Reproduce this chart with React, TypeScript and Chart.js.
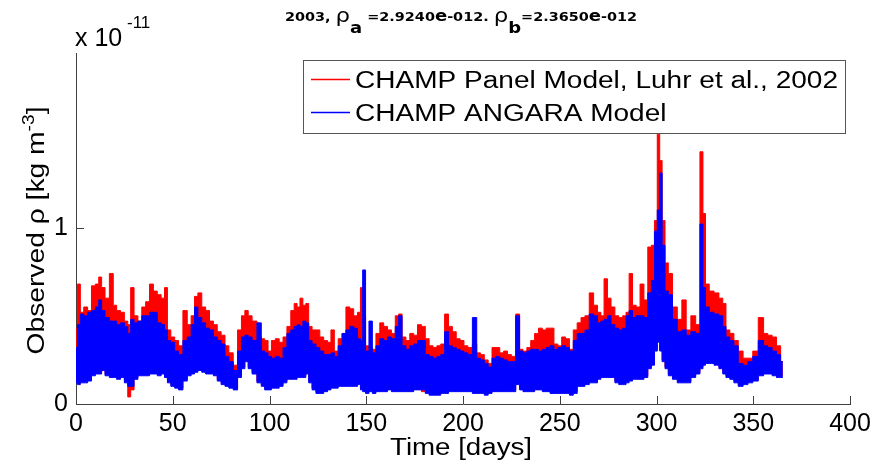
import React, { useEffect, useRef } from 'react';
import { Chart, registerables } from 'chart.js';

Chart.register(...registerables);

// ---- data (values in units of 1e-11 kg m^-3), envelope of dense samples ----
const days = [0,1.5,3,5,7,9,11,12.5,14,16,
18.5,20,22,24,26,27.5,29,31,33,35,
37,39,41,43,45,46.5,48,50,52,54,
56.5,58.5,60.5,62,64,66,68,70,72,74,
76,78,80,82.5,84.5,86.5,88,90,92,95,
96.5,98.5,100,102,104,106,108,110,112,113.5,
115,116.5,118,119.5,121,123,125,127,129,131,
132.5,134.5,136.5,138.5,140.5,142.5,144.5,146.5,147.5,148.8,
150.5,152.3,154,156,158,160,162,164,166,167.5,
169.5,171.5,173.5,175.5,177.5,179.5,181.5,183.5,185.5,187.5,
189.5,191.5,193.5,195.5,197.5,199.5,201.5,203.5,206.2,208,
210,212,214,216,218,220,222,224,226,228.5,
230,232,234,236,238,240,242,244,246,248,
250,252,254,256,258,260,262,264,266.5,268.5,
270.5,272,273.8,275.5,277.5,279.5,281.5,283.5,285,286.7,
288.5,290.5,292.5,294.5,296.5,298.2,299.7,301.1,302.2,303.6,
305.2,307,309.5,312,314.2,316.5,319,321.5,323.4,324.6,
326,328.5,331,333.5,335,336.8,339,341,343.5,346,
348.5,351,354.2,356.5,358.5,361,363,365.3];

const panelHigh = [.43,.68,.52,.55,.53,.67,.68,.72,.66,.60,
.74,.56,.53,.52,.47,.45,.66,.50,.47,.55,
.58,.68,.64,.62,.60,.66,.42,.38,.36,.33,
.53,.45,.50,.61,.63,.55,.53,.47,.45,.41,
.39,.33,.29,.22,.42,.50,.53,.50,.47,.38,
.37,.36,.30,.36,.37,.35,.38,.44,.53,.57,
.55,.60,.56,.57,.44,.42,.42,.38,.36,.35,
.42,.30,.37,.40,.55,.54,.50,.52,.66,.50,
.33,.32,.31,.40,.46,.44,.42,.40,.50,.51,
.38,.36,.40,.39,.45,.44,.37,.33,.32,.33,
.34,.51,.44,.41,.37,.36,.33,.32,.34,.29,
.28,.25,.23,.32,.32,.29,.30,.28,.27,.51,
.31,.30,.32,.36,.40,.43,.42,.43,.43,.34,
.33,.38,.37,.31,.42,.46,.49,.50,.63,.56,
.52,.50,.71,.60,.55,.50,.49,.50,.52,.74,
.56,.55,.68,.59,.89,.90,1.04,1.53,1.38,1.04,
.80,.74,.55,.48,.59,.42,.50,.45,1.43,1.08,
.68,.64,.63,.60,.57,.42,.40,.36,.30,.26,
.26,.30,.49,.40,.39,.38,.33,.24];

const panelLow = [.13,.12,.13,.13,.14,.17,.18,.18,.20,.17,
.16,.16,.15,.16,.13,.04,.08,.15,.17,.17,
.17,.18,.18,.17,.18,.16,.13,.11,.10,.09,
.14,.17,.18,.19,.20,.19,.18,.18,.17,.14,
.12,.11,.10,.09,.16,.21,.25,.21,.18,.13,
.11,.09,.09,.10,.10,.11,.13,.15,.15,.15,
.16,.16,.16,.18,.13,.09,.07,.07,.08,.09,
.10,.10,.11,.11,.11,.11,.11,.12,.09,.08,
.07,.08,.07,.08,.08,.08,.09,.08,.08,.08,
.08,.08,.08,.09,.09,.07,.07,.06,.06,.06,
.07,.07,.08,.08,.08,.08,.08,.08,.07,.07,
.07,.06,.07,.08,.08,.08,.08,.08,.08,.12,
.09,.08,.08,.08,.09,.09,.08,.08,.07,.07,
.07,.07,.07,.06,.07,.11,.11,.12,.13,.13,
.15,.16,.16,.16,.16,.13,.12,.12,.13,.14,
.15,.15,.15,.16,.21,.23,.31,.36,.31,.25,
.21,.17,.15,.13,.13,.13,.16,.18,.21,.23,
.24,.24,.23,.21,.18,.16,.15,.13,.11,.12,
.13,.14,.17,.18,.18,.17,.16,.16];

const angaraHigh = [.32,.45,.51,.50,.52,.53,.55,.59,.53,.49,
.47,.47,.45,.46,.44,.40,.48,.46,.47,.50,
.50,.52,.52,.46,.45,.42,.36,.35,.30,.28,
.36,.38,.45,.55,.49,.46,.43,.42,.38,.36,
.34,.27,.24,.19,.30,.38,.39,.38,.36,.46,
.30,.29,.27,.26,.27,.26,.32,.40,.42,.44,
.45,.44,.47,.46,.36,.34,.32,.30,.28,.28,
.29,.27,.33,.40,.42,.44,.43,.37,.36,.76,
.30,.47,.29,.33,.37,.36,.38,.37,.44,.50,
.33,.31,.33,.34,.36,.36,.28,.27,.26,.27,
.28,.41,.33,.32,.31,.30,.29,.28,.49,.26,
.25,.23,.21,.26,.27,.26,.25,.24,.24,.50,
.30,.29,.30,.31,.31,.30,.31,.32,.33,.31,
.32,.33,.32,.30,.36,.40,.40,.42,.51,.50,
.46,.47,.48,.50,.45,.43,.42,.43,.50,.53,
.49,.50,.50,.49,.63,.70,.98,1.10,1.31,.90,
.64,.62,.48,.41,.42,.39,.41,.40,1.02,.66,
.55,.52,.51,.50,.44,.38,.36,.33,.23,.22,
.24,.27,.36,.33,.32,.30,.28,.24];

const angaraLow = [.12,.11,.12,.12,.13,.16,.17,.17,.19,.16,
.15,.15,.14,.15,.12,.10,.10,.14,.16,.16,
.16,.17,.17,.16,.17,.15,.12,.10,.09,.08,
.13,.16,.17,.18,.19,.18,.17,.17,.16,.13,
.11,.10,.09,.08,.15,.20,.24,.20,.17,.12,
.10,.08,.08,.09,.09,.10,.12,.14,.14,.14,
.15,.15,.15,.17,.12,.08,.06,.06,.07,.08,
.09,.09,.10,.10,.10,.10,.10,.11,.08,.07,
.06,.07,.06,.07,.07,.07,.08,.07,.07,.07,
.07,.07,.07,.08,.08,.08,.06,.05,.05,.05,
.06,.06,.07,.07,.07,.07,.07,.07,.06,.06,
.06,.05,.06,.07,.07,.07,.07,.07,.07,.11,
.08,.07,.07,.07,.08,.08,.07,.07,.06,.06,
.06,.06,.06,.05,.06,.10,.10,.11,.12,.12,
.14,.15,.15,.15,.15,.12,.11,.11,.12,.13,
.14,.14,.14,.15,.20,.22,.30,.35,.30,.24,
.20,.16,.14,.12,.12,.12,.15,.17,.20,.22,
.23,.23,.22,.20,.17,.15,.14,.12,.10,.11,
.12,.13,.16,.17,.17,.16,.15,.15];

const seriesLabels = ['CHAMP Panel Model, Luhr et al., 2002', 'CHAMP ANGARA Model'];
const yTickValues = [0, 1];
const xTickStep = 50;

const FONT = '"Liberation Sans", Arial, Helvetica, sans-serif';
const TFONT = '"DejaVu Sans", Verdana, sans-serif';
const RED = '#ff0000';
const BLUE = '#0000ff';
const AXIS = '#404040';

type Seg = { t: string; f: string; dy: number };

function drawSegs(ctx: CanvasRenderingContext2D, segs: Seg[], x0: number, y0: number, targetW: number) {
  let total = 0;
  const ws: number[] = [];
  for (const s of segs) { ctx.font = s.f; const w = ctx.measureText(s.t).width; ws.push(w); total += w; }
  const sx = targetW / total;
  ctx.save();
  ctx.translate(x0, y0);
  ctx.scale(sx, 1);
  let cx = 0;
  segs.forEach((s, i) => { ctx.font = s.f; ctx.fillText(s.t, cx, s.dy); cx += ws[i]; });
  ctx.restore();
}

const decorPlugin = {
  id: 'decor',
  afterDraw(chart: any) {
    const ctx: CanvasRenderingContext2D = chart.ctx;
    const { left, right, top, bottom } = chart.chartArea;
    const xs = chart.scales.x;
    const ys = chart.scales.y;
    ctx.save();
    // inward ticks
    ctx.strokeStyle = AXIS;
    ctx.lineWidth = 1;
    ctx.beginPath();
    xs.ticks.forEach((t: any) => {
      const px = Math.round(xs.getPixelForValue(t.value)) + 0.5;
      ctx.moveTo(px, bottom); ctx.lineTo(px, bottom - 8);
    });
    ys.ticks.forEach((t: any) => {
      const py = Math.round(ys.getPixelForValue(t.value)) + 0.5;
      ctx.moveTo(left, py); ctx.lineTo(left + 8, py);
    });
    ctx.stroke();

    ctx.fillStyle = '#000';
    ctx.textBaseline = 'alphabetic';
    ctx.textAlign = 'left';

    // title
    const b12 = 'bold 12px ' + TFONT;
    const b15 = 'bold 15px ' + TFONT;
    const rho = '19px ' + TFONT;
    drawSegs(ctx, [
      { t: '2003, ', f: b12, dy: 0 },
      { t: 'ρ', f: rho, dy: 1 },
      { t: 'a', f: b15, dy: 12 },
      { t: ' =2.9240', f: b12, dy: 0 },
      { t: 'e', f: b15, dy: 0 },
      { t: '-012. ', f: b12, dy: 0 },
      { t: 'ρ', f: rho, dy: 1 },
      { t: 'b', f: b15, dy: 12 },
      { t: '=2.3650', f: b12, dy: 0 },
      { t: 'e', f: b15, dy: 0 },
      { t: '-012', f: b12, dy: 0 },
    ], 285, 21, 352);

    // exponent
    ctx.font = '25px ' + FONT;
    ctx.fillText('x 10', 75, 46);
    ctx.font = '17px ' + FONT;
    ctx.fillText('-11', 127, 28);

    // x title
    const xtw = 142;
    drawSegs(ctx, [{ t: 'Time [days]', f: '23.5px ' + FONT, dy: 0 }], (left + right) / 2 - 2 - xtw / 2, 455, xtw);

    // y title (rotated)
    ctx.save();
    ctx.translate(44, (top + bottom) / 2 + 2);
    ctx.rotate(-Math.PI / 2);
    drawSegs(ctx, [
      { t: 'Observed ρ [kg m', f: '23.5px ' + FONT, dy: 0 },
      { t: '-3', f: '16px ' + FONT, dy: -10 },
      { t: ']', f: '23.5px ' + FONT, dy: 0 },
    ], -124, 0, 248);
    ctx.restore();

    // legend
    const bx = 303.5, by = 60.5, bw = 542, bh = 73;
    ctx.fillStyle = '#fff';
    ctx.fillRect(bx, by, bw, bh);
    ctx.strokeStyle = '#555';
    ctx.lineWidth = 1;
    ctx.strokeRect(bx, by, bw, bh);
    const entries = [
      { label: seriesLabels[0], color: chart.data.datasets[3].borderColor, y: 79, base: 88 },
      { label: seriesLabels[1], color: chart.data.datasets[1].borderColor, y: 112, base: 121 },
    ];
    const lf = '23.5px ' + FONT;
    ctx.font = lf;
    const sxl = 483 / ctx.measureText(seriesLabels[0]).width;
    entries.forEach((e) => {
      ctx.strokeStyle = e.color;
      ctx.lineWidth = 1.3;
      ctx.beginPath();
      ctx.moveTo(311, e.y + 0.5); ctx.lineTo(350, e.y + 0.5);
      ctx.stroke();
      ctx.fillStyle = '#000';
      ctx.font = lf;
      const w = ctx.measureText(e.label).width * sxl;
      drawSegs(ctx, [{ t: e.label, f: lf, dy: 0 }], 355, e.base, w);
    });
    ctx.restore();
  },
};

export default function App() {
  const ref = useRef<HTMLCanvasElement | null>(null);
  useEffect(() => {
    if (!ref.current) return;
    const pts = (ys: number[]) => days.map((d, i) => ({ x: d, y: ys[i] }));
    const base = { pointRadius: 0, borderWidth: 1, tension: 0, stepped: 'middle' };
    const chart = new Chart(ref.current, {
      type: 'line',
      data: {
        datasets: [
          { ...base, label: 'angaraLow', data: pts(angaraLow), borderColor: BLUE, backgroundColor: BLUE, fill: false },
          { ...base, label: seriesLabels[1], data: pts(angaraHigh), borderColor: BLUE, backgroundColor: BLUE, fill: '-1' },
          { ...base, label: 'panelLow', data: pts(panelLow), borderColor: RED, backgroundColor: RED, fill: false },
          { ...base, label: seriesLabels[0], data: pts(panelHigh), borderColor: RED, backgroundColor: RED, fill: '-1' },
        ],
      },
      options: {
        animation: false,
        responsive: false,
        devicePixelRatio: 1,
        layout: { padding: { left: 0, right: 28, top: 53, bottom: 0 } },
        plugins: { legend: { display: false }, tooltip: { enabled: false }, title: { display: false } },
        scales: {
          x: {
            type: 'linear',
            min: 0,
            max: 400,
            ticks: { stepSize: xTickStep, font: { family: FONT, size: 25 }, color: '#000', padding: 5, maxRotation: 0, autoSkip: false },
            grid: { display: false, drawTicks: false },
            border: { display: true, color: AXIS, width: 1 },
            afterFit: (s: any) => { s.height = 69; },
          },
          y: {
            type: 'linear',
            min: 0,
            max: 1.99,
            afterBuildTicks: (axis: any) => { axis.ticks = yTickValues.map((v) => ({ value: v })); },
            ticks: { font: { family: FONT, size: 25 }, color: '#000', padding: 8, callback: (v: any) => String(v) },
            grid: { display: false, drawTicks: false },
            border: { display: true, color: AXIS, width: 1 },
            afterFit: (s: any) => { s.width = 76; },
          },
        },
      },
      plugins: [decorPlugin],
    } as any);
    return () => chart.destroy();
  }, []);
  return (
    <div style={{ position: 'absolute', left: 0, top: 0, width: 878, height: 473, background: '#fff' }}>
      <canvas ref={ref} width={878} height={473} style={{ display: 'block' }} />
    </div>
  );
}
